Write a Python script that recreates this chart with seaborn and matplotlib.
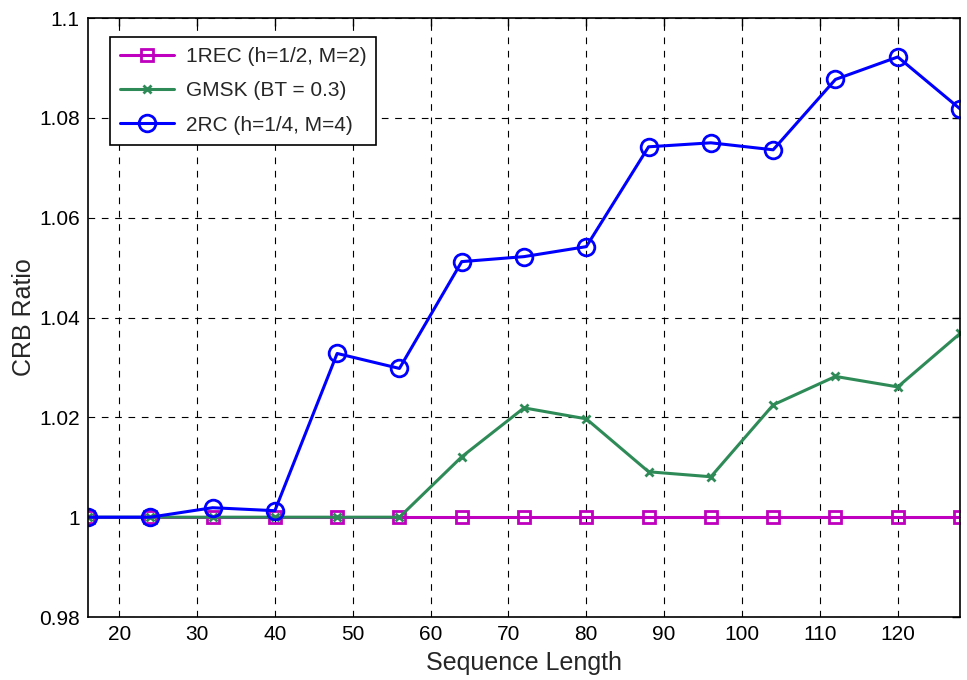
import matplotlib
matplotlib.use("Agg")
import matplotlib.pyplot as plt
import seaborn as sns
import numpy as np

seq_len = [16, 24, 32, 40, 48, 56, 64, 72, 80, 88, 96, 104, 112, 120, 128]
rec1 = [1.0] * 15
gmsk = [1.0, 1.0, 1.0, 1.0, 1.0, 1.0, 1.0121, 1.0219, 1.0197, 1.0091, 1.0081, 1.0225, 1.0282, 1.0261, 1.0368]
rc2 = [1.0, 1.0, 1.0019, 1.0013, 1.0328, 1.0298, 1.0512, 1.0522, 1.0542, 1.0742, 1.0750, 1.0736, 1.0877, 1.0922, 1.0818]
labels = ["1REC (h=1/2, M=2)", "GMSK (BT = 0.3)", "2RC (h=1/4, M=4)"]
xticks = [20, 30, 40, 50, 60, 70, 80, 90, 100, 110, 120]
yticks = [0.98, 1.0, 1.02, 1.04, 1.06, 1.08, 1.1]
yticklabels = ["0.98", "1", "1.02", "1.04", "1.06", "1.08", "1.1"]

sns.set_style("white")
plt.rcParams['font.family'] = ['Liberation Sans', 'DejaVu Sans']

fig = plt.figure(figsize=(9.67, 6.80), dpi=100)
ax = fig.add_axes([0.091, 0.0926, 0.9018, 0.8809])

styles = [
    dict(color=(0.75, 0, 0.75), marker='s', ms=9, mfc='none', mew=2),
    dict(color=(0.18, 0.545, 0.34), marker='x', ms=6, mew=2),
    dict(color=(0, 0, 1), marker='o', ms=12, mfc='none', mew=2),
]
for vals, lab, st in zip([rec1, gmsk, rc2], labels, styles):
    sns.lineplot(x=seq_len, y=vals, ax=ax, label=lab, color=st['color'], lw=2.2,
                 marker=st['marker'], markersize=st['ms'],
                 markerfacecolor=st.get('mfc', st['color']),
                 markeredgecolor=st['color'], markeredgewidth=st['mew'])

ax.set_xlim(16, 128)
ax.set_ylim(0.98, 1.1)
ax.set_xticks(xticks)
ax.set_yticks(yticks)
ax.set_yticklabels(yticklabels)
ax.tick_params(direction='in', top=True, right=True, labelsize=15, length=6, width=1,
               colors='black', pad=6)
ax.grid(True, linestyle=(0, (6, 6)), color='black', linewidth=0.8)
for s in ax.spines.values():
    s.set_visible(True)
    s.set_color('black')
    s.set_linewidth(1.2)
ax.set_xlabel("Sequence Length", fontsize=18, labelpad=5)
ax.set_ylabel("CRB Ratio", fontsize=18, labelpad=2)

leg = ax.legend(loc='upper left', bbox_to_anchor=(0.0252, 0.968), borderaxespad=0,
                fontsize=15, frameon=True, fancybox=False, edgecolor='black', framealpha=1,
                handlelength=2.6, handletextpad=0.55, borderpad=0.48, labelspacing=0.73)
leg.get_frame().set_linewidth(1.2)

fig.savefig("out.png", dpi=100)
